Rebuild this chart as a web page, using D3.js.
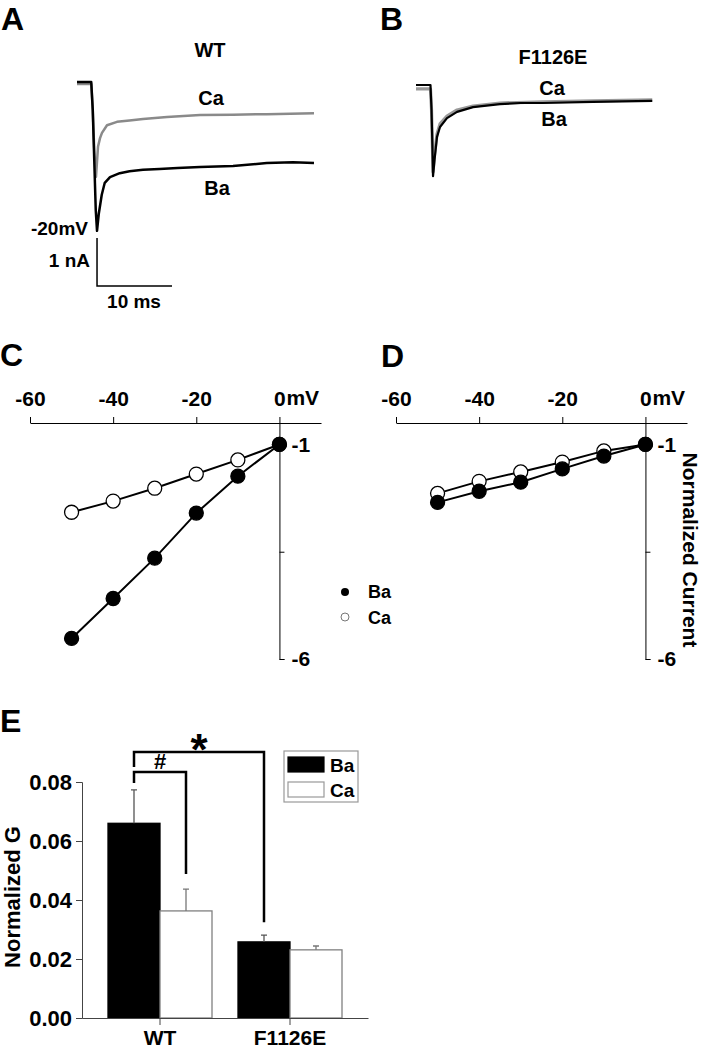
<!DOCTYPE html>
<html>
<head>
<meta charset="utf-8">
<script src="https://cdn.jsdelivr.net/npm/d3@7"></script>
<style>
  body { margin: 0; background: #fff; }
  text { font-family: "Liberation Sans", Arial, sans-serif; font-weight: bold; fill: #000; }
</style>
</head>
<body>
<svg width="704" height="1050"></svg>
<script>
// current traces: time in ms from the step, current in nA
var wtBaTime = [-2.0, -0.1, 0.1, 0.3, 0.5, 0.67, 0.9, 1.3, 1.7, 2.4, 3.7, 5.0, 6.8, 9.0, 11.4, 14.4, 18.8, 23.3, 26.8, 29.6];
var wtBaCurr = [0, 0, -0.58, -1.63, -2.67, -3.10, -2.75, -2.35, -2.10, -1.98, -1.90, -1.86, -1.83, -1.81, -1.79, -1.77, -1.75, -1.69, -1.67, -1.69];
var wtCaTime = [-2.0, -0.1, 0.1, 0.3, 0.53, 0.8, 1.07, 1.33, 2.0, 3.33, 5.0, 6.8, 10.0, 14.4, 18.8, 23.3, 29.6];
var wtCaCurr = [-0.04, -0.04, -0.58, -1.42, -1.98, -1.35, -1.17, -1.06, -0.90, -0.83, -0.80, -0.77, -0.73, -0.69, -0.68, -0.67, -0.65];
var mutBaTime = [-2.0, -0.07, 0.07, 0.2, 0.27, 0.47, 0.8, 1.2, 2.13, 3.47, 5.6, 9.2, 11.9, 14.9, 21.6, 29.5];
var mutBaCurr = [0, 0, -0.52, -1.35, -1.90, -1.56, -1.08, -0.875, -0.69, -0.56, -0.46, -0.40, -0.375, -0.375, -0.35, -0.33];
var mutCaTime = [-2.0, -0.07, 0.07, 0.2, 0.27, 0.47, 0.8, 1.2, 2.13, 3.47, 5.6, 9.2, 14.9, 21.6, 29.5];
var mutCaCurr = [-0.08, -0.08, -0.52, -1.35, -1.81, -1.46, -1.02, -0.81, -0.65, -0.52, -0.44, -0.375, -0.35, -0.33, -0.31];

// I-V curves (normalized current)
var voltages = [-50, -40, -30, -20, -10, 0];
var ivWtBa = [-5.52, -4.59, -3.65, -2.60, -1.74, -1];
var ivWtCa = [-2.58, -2.32, -2.02, -1.69, -1.36, -1];
var ivMutBa = [-2.35, -2.09, -1.88, -1.57, -1.27, -1];
var ivMutCa = [-2.14, -1.86, -1.64, -1.41, -1.15, -1];
var vTicks = [-60, -40, -20, 0];
var iTicks = [-1, -3.5, -6];

// normalized conductance
var groups = ["WT", "F1126E"];
var ions = ["Ba", "Ca"];
var gBa = [0.066, 0.0258];
var gBaErr = [0.0113, 0.0023];
var gCa = [0.0363, 0.0231];
var gCaErr = [0.0074, 0.0013];
var gTicks = [0, 0.02, 0.04, 0.06, 0.08];

var svg = d3.select("svg");

function label(x, y, txt, size, anchor) {
  return svg.append("text").attr("x", x).attr("y", y)
    .attr("font-size", size).attr("text-anchor", anchor || "start").text(txt);
}

// panel letters
label(1, 30, "A", 32);
label(380, 30, "B", 32);
label(0, 366, "C", 32);
label(381, 367, "D", 32);
label(0, 732, "E", 32);

// ---------- A and B : traces ----------
function tracePanel(x0, y0, traces) {
  var x = d3.scaleLinear().domain([0, 10]).range([x0, x0 + 75]);
  var y = d3.scaleLinear().domain([0, -1]).range([y0, y0 + 48]);
  var line = d3.line().x(function(d){ return x(d[0]); }).y(function(d){ return y(d[1]); });
  traces.forEach(function(tr) {
    var pts = tr.t.map(function(t, i){ return [t, tr.i[i]]; });
    svg.append("path").attr("d", line(pts))
      .attr("fill", "none").attr("stroke", tr.color)
      .attr("stroke-width", tr.w).attr("stroke-linejoin", "round");
  });
  return { x: x, y: y };
}

var sa = tracePanel(92, 82, [
  { t: wtCaTime, i: wtCaCurr, color: "#8a8a8a", w: 2.5 },
  { t: wtBaTime, i: wtBaCurr, color: "#000", w: 2.5 }
]);
tracePanel(431, 85, [
  { t: mutCaTime, i: mutCaCurr, color: "#999", w: 3.2 },
  { t: mutBaTime, i: mutBaCurr, color: "#000", w: 2.2 }
]);

// scale bar (1 nA, 10 ms)
var barT = 0.67, barTop = -3.25, barBot = -4.25;
svg.append("path")
  .attr("d", "M" + sa.x(barT) + "," + sa.y(barTop) + "V" + sa.y(barBot) + "H" + sa.x(barT + 10))
  .attr("fill", "none").attr("stroke", "#000").attr("stroke-width", 1.5);

label(210, 57, "WT", 20, "middle");
label(211, 105, "Ca", 20, "middle");
label(217, 195, "Ba", 20, "middle");
label(88, 235, "-20mV", 19, "end");
label(90, 267, "1 nA", 19, "end");
label(134, 308, "10 ms", 19, "middle");

label(553, 64, "F1126E", 20, "middle");
label(552, 95, "Ca", 20, "middle");
label(554, 126, "Ba", 20, "middle");

// ---------- C and D : I-V ----------
function ivPanel(x0, ba, ca) {
  var x = d3.scaleLinear().domain([-60, 10]).range([x0, x0 + 291]);
  var y = d3.scaleLinear().domain([-0.5, -6]).range([423, 659]);
  var g = svg.append("g");

  var xa = g.append("g").attr("transform", "translate(0,423)")
    .call(d3.axisTop(x).tickValues(vTicks).tickSize(6).tickSizeOuter(0).tickPadding(11)
      .tickFormat(function(d){ return d; }));
  xa.attr("font-size", 21);
  xa.append("text").attr("x", x(0) + 7).attr("y", -18).attr("text-anchor", "start").text("mV");

  var ya = g.append("g").attr("transform", "translate(" + x(0) + ",0)")
    .call(d3.axisRight(y).tickValues(iTicks).tickSize(5).tickSizeOuter(5).tickPadding(7)
      .tickFormat(function(d){ return d === -3.5 ? "" : d; }));
  ya.attr("font-size", 21);

  var line = d3.line().x(function(d){ return x(d[0]); }).y(function(d){ return y(d[1]); });
  [{ v: ca, fill: "#fff" }, { v: ba, fill: "#000" }].forEach(function(s) {
    var pts = voltages.map(function(v, i){ return [v, s.v[i]]; });
    g.append("path").attr("d", line(pts)).attr("fill", "none")
      .attr("stroke", "#000").attr("stroke-width", 2);
    g.selectAll(null).data(pts).enter().append("circle")
      .attr("cx", function(d){ return x(d[0]); })
      .attr("cy", function(d){ return y(d[1]); })
      .attr("r", 7).attr("fill", s.fill).attr("stroke", "#000").attr("stroke-width", 1.3);
  });
}

ivPanel(30, ivWtBa, ivWtCa);
ivPanel(396, ivMutBa, ivMutCa);

// legend between C and D
svg.append("circle").attr("cx", 345).attr("cy", 592).attr("r", 4).attr("fill", "#000");
svg.append("circle").attr("cx", 345).attr("cy", 617).attr("r", 4).attr("fill", "#fff")
  .attr("stroke", "#777").attr("stroke-width", 1);
label(368, 598, "Ba", 18);
label(368, 624, "Ca", 18);

svg.append("text").attr("transform", "translate(683,550) rotate(90)")
  .attr("font-size", 21).attr("text-anchor", "middle").text("Normalized Current");

// ---------- E : bars ----------
var xE = d3.scaleBand().domain(groups).range([82, 368]).paddingInner(0.2).paddingOuter(0.2);
var xIon = d3.scaleBand().domain(ions).range([0, xE.bandwidth()]);
var yE = d3.scaleLinear().domain([0, 0.08]).range([1018, 782]);

var eg = svg.append("g");
var bars = [];
groups.forEach(function(gr, i) {
  bars.push({ g: gr, ion: "Ba", v: gBa[i], e: gBaErr[i] });
  bars.push({ g: gr, ion: "Ca", v: gCa[i], e: gCaErr[i] });
});

eg.selectAll(".bar").data(bars).enter().append("rect")
  .attr("class", "bar")
  .attr("x", function(d){ return xE(d.g) + xIon(d.ion); })
  .attr("y", function(d){ return yE(d.v); })
  .attr("width", xIon.bandwidth())
  .attr("height", function(d){ return yE(0) - yE(d.v); })
  .attr("fill", function(d){ return d.ion === "Ba" ? "#000" : "#fff"; })
  .attr("stroke", function(d){ return d.ion === "Ba" ? "#000" : "#808080"; })
  .attr("stroke-width", 1.3);

// error bars (upper only)
eg.selectAll(".err").data(bars).enter().append("path")
  .attr("class", "err")
  .attr("d", function(d) {
    var cx = xE(d.g) + xIon(d.ion) + xIon.bandwidth() / 2;
    return "M" + cx + "," + yE(d.v) + "V" + yE(d.v + d.e) + "M" + (cx - 3) + "," + yE(d.v + d.e) + "H" + (cx + 3);
  })
  .attr("fill", "none")
  .attr("stroke", function(d){ return d.ion === "Ba" ? "#555" : "#777"; })
  .attr("stroke-width", 1.3);

var xa = eg.append("g").attr("transform", "translate(0,1018)")
  .call(d3.axisBottom(xE).tickSize(7).tickSizeOuter(0).tickPadding(5));
xa.attr("font-size", 21);
xa.select(".domain").attr("stroke", "#444");
xa.selectAll(".tick line").attr("stroke", "#444");

var ya = eg.append("g").attr("transform", "translate(82,0)")
  .call(d3.axisLeft(yE).tickValues(gTicks).tickSize(6).tickPadding(4).tickFormat(d3.format(".2f")));
ya.attr("font-size", 22);
ya.select(".domain").attr("stroke", "#444");
ya.selectAll(".tick line").attr("stroke", "#444");

svg.append("text").attr("transform", "translate(20,897) rotate(-90)")
  .attr("font-size", 22).attr("text-anchor", "middle").text("Normalized G");

// significance brackets
var brackets = [
  { a: ["WT", "Ba"], b: ["F1126E", "Ba"], top: 0.0902, aEnd: 0.0851, bEnd: 0.0325, mark: "*" },
  { a: ["WT", "Ba"], b: ["WT", "Ca"], top: 0.0834, aEnd: 0.0797, bEnd: 0.0488, mark: "#" }
];
function barCenter(p) { return xE(p[0]) + xIon(p[1]) + xIon.bandwidth() / 2; }
brackets.forEach(function(br) {
  var xa_ = barCenter(br.a), xb_ = barCenter(br.b);
  eg.append("path")
    .attr("d", "M" + xa_ + "," + yE(br.aEnd) + "V" + yE(br.top) + "H" + xb_ + "V" + yE(br.bEnd))
    .attr("fill", "none").attr("stroke", "#000").attr("stroke-width", 2.5);
  var mx = (xa_ + xb_) / 2;
  if (br.mark === "*") {
    eg.append("text").attr("x", mx).attr("y", yE(br.top) + 13).attr("font-size", 44)
      .attr("text-anchor", "middle").text("*");
  } else {
    eg.append("text").attr("x", mx).attr("y", yE(br.top) - 3).attr("font-size", 22)
      .attr("text-anchor", "middle").text("#");
  }
});

// legend E
var lg = svg.append("g").attr("transform", "translate(284,751)");
lg.append("rect").attr("width", 74).attr("height", 51).attr("fill", "#fff")
  .attr("stroke", "#999").attr("stroke-width", 1.2);
ions.forEach(function(ion, i) {
  lg.append("rect").attr("x", 4).attr("y", 6 + i * 25).attr("width", 36).attr("height", 15)
    .attr("fill", ion === "Ba" ? "#000" : "#fff")
    .attr("stroke", ion === "Ba" ? "#000" : "#999").attr("stroke-width", 1.2);
  lg.append("text").attr("x", 46).attr("y", 21 + i * 25).attr("font-size", 19).text(ion);
});
</script>
</body>
</html>
